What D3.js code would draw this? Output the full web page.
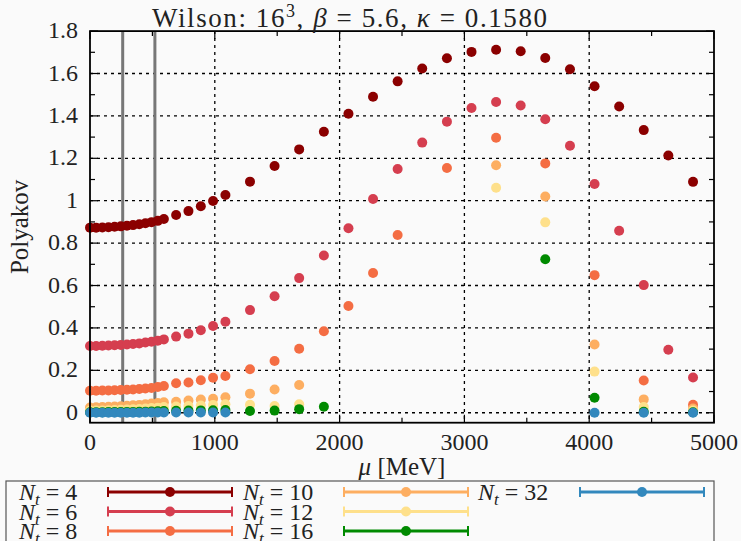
<!DOCTYPE html>
<html>
<head>
<meta charset="utf-8">
<script src="https://cdn.jsdelivr.net/npm/d3@7"></script>
<style>
body{margin:0;background:#fafafa}
svg{display:block}
text{font-family:"Liberation Serif","DejaVu Serif",serif;fill:#222}
</style>
</head>
<body>
<div id="chart"></div>
<script>
// mu grid (MeV) shared by all series, null = no point measured
var mu = [0,49,99,148,197,247,296,345,395,444,493,543,592,
          690,789,888,986,1085,
          1282,1479,1676,1874,2071,2268,2465,2662,2860,3057,3254,3451,3648,3846,4043,4240,4437,4634,4832];

var nt4  = [0.873,0.873,0.874,0.875,0.877,0.879,0.882,0.885,0.889,0.894,0.899,0.905,0.914,
            0.933,0.951,0.974,0.999,1.027,
            1.090,1.164,1.242,1.325,1.410,1.490,1.563,1.624,1.672,1.702,1.712,1.705,1.673,1.620,1.540,1.444,1.333,1.213,1.089];
var nt6  = [0.315,0.315,0.316,0.317,0.318,0.320,0.322,0.324,0.327,0.331,0.335,0.340,0.346,
            0.359,0.373,0.389,0.409,0.429,
            0.484,0.549,0.635,0.742,0.870,1.008,1.150,1.274,1.373,1.437,1.466,1.449,1.384,1.259,1.079,0.858,0.602,0.297,0.166];
var nt8  = [0.104,0.104,0.105,0.105,0.106,0.107,0.108,0.110,0.112,0.114,0.117,0.121,0.126,
            0.139,0.143,0.153,0.165,0.173,
            0.205,0.244,0.302,0.384,0.503,0.659,0.838,null,1.154,null,1.297,null,1.176,null,0.649,null,0.152,null,0.038];
var nt10 = [0.025,0.026,0.027,0.028,0.029,0.031,0.033,0.035,0.037,0.040,0.043,0.046,0.049,
            0.052,0.058,0.062,0.066,0.073,
            0.090,0.110,0.131,null,null,null,null,null,null,null,1.167,null,1.020,null,0.322,null,0.063,null,0.020];
var nt12 = [0.010,0.010,0.011,0.012,0.013,0.014,0.015,0.016,0.018,0.020,0.022,0.024,0.027,
            0.029,0.032,0.034,0.037,0.040,
            0.038,0.032,0.040,null,null,null,null,null,null,null,1.061,null,0.898,null,0.194,null,0.027,null,0.010];
var nt16 = [0.002,0.002,0.002,0.003,0.003,0.003,0.004,0.004,0.005,0.005,0.006,0.007,0.008,
            0.009,0.010,0.011,0.012,0.013,
            0.008,0.010,0.017,0.028,null,null,null,null,null,null,null,null,0.724,null,0.071,null,0.005,null,0.002];
var nt32 = [0.000,0.000,0.000,0.000,0.000,0.000,0.000,0.000,0.000,0.001,0.001,0.001,0.001,
            0.001,0.001,0.001,0.001,0.001,
            null,null,null,null,null,null,null,null,null,null,null,null,null,null,0.000,null,0.000,null,0.000];

var ntLabels = ["4","6","8","10","12","16","32"];
var ntColors = ["#8b0000","#d53e4f","#f46d43","#fdae61","#fee08b","#008a00","#3288bd"];
var ntValues = [nt4, nt6, nt8, nt10, nt12, nt16, nt32];

var xTicks = [0,1000,2000,3000,4000,5000];
var yTicks = [0,0.2,0.4,0.6,0.8,1,1.2,1.4,1.6,1.8];
var markerLines = [262, 520];

var W = 741, H = 541;
var pL = 90, pR = 714, pT = 31.1, pB = 422.7;

var svg = d3.select("#chart").append("svg")
    .attr("width", W)
    .attr("height", H)

svg.append("rect")
    .attr("width", W).attr("height", H)
    .style("fill", "#fafafa")

var x = d3.scaleLinear().domain([0,5000]).range([pL,pR]);
var y = d3.scaleLinear().domain([-0.047,1.8]).range([pB,pT]);

// dotted grid
svg.selectAll(".gx").data(xTicks.slice(1,-1)).enter().append("line")
    .attr("x1", d => x(d)).attr("x2", d => x(d))
    .attr("y1", pT).attr("y2", pB)
    .style("stroke", "#000").style("stroke-width", 1.3)
    .style("stroke-dasharray", "3,4")
svg.selectAll(".gy").data(yTicks.slice(0,-1)).enter().append("line")
    .attr("x1", pL).attr("x2", pR)
    .attr("y1", d => y(d)).attr("y2", d => y(d))
    .style("stroke", "#000").style("stroke-width", 1.3)
    .style("stroke-dasharray", "3,4")

// grey markers
svg.selectAll(".mk").data(markerLines).enter().append("line")
    .attr("x1", d => x(d)).attr("x2", d => x(d))
    .attr("y1", pT).attr("y2", pB)
    .style("stroke", "#777").style("stroke-width", 3)

// inward ticks on all four sides
var xMinor = d3.range(0, 5001, 500);
var yMinor = d3.range(0, 18.01, 1).map(d => d/10);
xMinor.forEach(function(d){
    var len = (d % 1000 === 0) ? 8 : 5;
    svg.append("line").attr("x1", x(d)).attr("x2", x(d)).attr("y1", pB).attr("y2", pB-len).style("stroke","#000").style("stroke-width",1.2)
    svg.append("line").attr("x1", x(d)).attr("x2", x(d)).attr("y1", pT).attr("y2", pT+len).style("stroke","#000").style("stroke-width",1.2)
});
yMinor.forEach(function(d){
    var len = (Math.round(d*10) % 2 === 0) ? 8 : 5;
    svg.append("line").attr("x1", pL).attr("x2", pL+len).attr("y1", y(d)).attr("y2", y(d)).style("stroke","#000").style("stroke-width",1.2)
    svg.append("line").attr("x1", pR).attr("x2", pR-len).attr("y1", y(d)).attr("y2", y(d)).style("stroke","#000").style("stroke-width",1.2)
});

// points, later series on top
ntValues.forEach(function(vals, i){
    var pts = mu.map((m, k) => ({mu: m, v: vals[k]})).filter(p => p.v !== null);
    svg.append("g").selectAll("circle").data(pts).enter().append("circle")
        .attr("cx", d => x(d.mu))
        .attr("cy", d => y(d.v))
        .attr("r", 5)
        .style("fill", ntColors[i])
});

// frame
svg.append("rect")
    .attr("x", pL).attr("y", pT)
    .attr("width", pR-pL).attr("height", pB-pT)
    .style("fill", "none").style("stroke", "#000").style("stroke-width", 1.8)

// tick labels
svg.selectAll(".xl").data(xTicks).enter().append("text")
    .attr("x", d => x(d)).attr("y", pB + 27)
    .attr("text-anchor", "middle")
    .style("font-size", "24px")
    .text(d => d)
svg.selectAll(".yl").data(yTicks).enter().append("text")
    .attr("x", pL - 12).attr("y", d => y(d) + 7)
    .attr("text-anchor", "end")
    .style("font-size", "24px")
    .text(d => d3.format("")(+d.toFixed(1)))

// axis titles
svg.append("text")
    .attr("transform", "translate(28," + ((pT+pB)/2) + ") rotate(-90)")
    .attr("text-anchor", "middle")
    .style("font-size", "25px")
    .text("Polyakov")
var xt = svg.append("text")
    .attr("x", (pL+pR)/2).attr("y", 475)
    .attr("text-anchor", "middle")
    .style("font-size", "25px")
xt.append("tspan").style("font-style", "italic").text("μ")
xt.append("tspan").text(" [MeV]")

// title
var tt = svg.append("text")
    .attr("x", 152).attr("y", 27)
    .attr("textLength", 395)
    .attr("lengthAdjust", "spacing")
    .style("font-size", "27px")
tt.append("tspan").text("Wilson:  16")
tt.append("tspan").attr("dy", -10).style("font-size", "18px").text("3")
tt.append("tspan").attr("dy", 10).text(", ")
tt.append("tspan").style("font-style", "italic").text("β")
tt.append("tspan").text(" = 5.6, ")
tt.append("tspan").style("font-style", "italic").text("κ")
tt.append("tspan").text(" = 0.1580")

// legend
svg.append("rect")
    .attr("x", 6).attr("y", 481)
    .attr("width", 708).attr("height", 80)
    .style("fill", "#fafafa").style("stroke", "#555").style("stroke-width", 1.2)

var colX = [19, 243, 478];
var lineX = [108, 344, 580];
var rowY = [492, 511.5, 531];
ntLabels.forEach(function(lab, i){
    var c = Math.floor(i / 3), r = i % 3;
    var g = svg.append("g");
    var t = g.append("text")
        .attr("x", colX[c]).attr("y", rowY[r] + 8)
        .style("font-size", "24px")
    t.append("tspan").style("font-style", "italic").text("N")
    t.append("tspan").attr("dy", 5).style("font-size", "17px").style("font-style", "italic").text("t")
    t.append("tspan").attr("dy", -5).text(" = " + lab)
    var x1 = lineX[c], x2 = lineX[c] + 124;
    g.append("line").attr("x1", x1).attr("x2", x2).attr("y1", rowY[r]).attr("y2", rowY[r])
        .style("stroke", ntColors[i]).style("stroke-width", 3)
    g.append("line").attr("x1", x1).attr("x2", x1).attr("y1", rowY[r]-5).attr("y2", rowY[r]+5)
        .style("stroke", ntColors[i]).style("stroke-width", 2)
    g.append("line").attr("x1", x2).attr("x2", x2).attr("y1", rowY[r]-5).attr("y2", rowY[r]+5)
        .style("stroke", ntColors[i]).style("stroke-width", 2)
    g.append("circle").attr("cx", (x1+x2)/2).attr("cy", rowY[r]).attr("r", 5)
        .style("fill", ntColors[i])
});
</script>
</body>
</html>
